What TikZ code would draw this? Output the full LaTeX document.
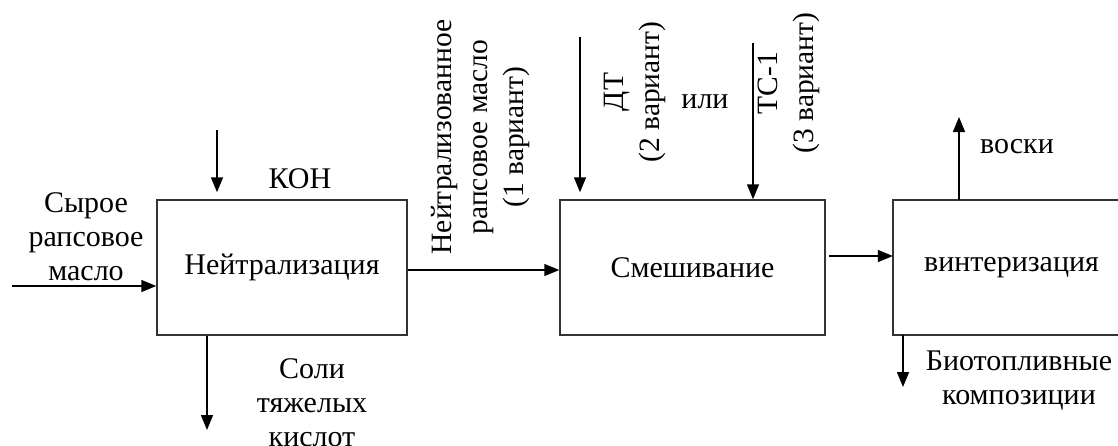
\documentclass[tikz,border=0pt]{standalone}
\usepackage{fontspec}
\setmainfont{Liberation Serif}
\usetikzlibrary{arrows.meta}
\begin{document}
\begin{tikzpicture}[x=1pt,y=-1pt,
  box/.style={draw=black!80, line width=1.5pt, minimum height=135pt, inner sep=0pt, font=\fontsize{30}{34}\selectfont},
  openbox/.style={minimum height=135pt, inner sep=0pt, font=\fontsize{30}{34}\selectfont},
  boxline/.style={draw=black!80, line width=1.5pt},
  arr/.style={line width=1.5pt, -{Triangle[length=15pt,width=12pt]}},
  lbl/.style={font=\fontsize{30}{34}\selectfont, align=center, inner sep=0pt},
  vlbl/.style={lbl, rotate=90, font=\fontsize{29.5}{36}\selectfont}]
\useasboundingbox (0,0) rectangle (1118,445);
\clip (0,0) rectangle (1118,445);
% boxes
\node[box, minimum width=250pt] (n1) at (282,267.5) {Нейтрализация};
\node[box, minimum width=265pt] (n2) at (692.5,267.5) {Смешивание};
\node[openbox, minimum width=237pt] (n3) at (1011.5,267.5) {винтеризация};
\draw[boxline] (n3.north east) -- (n3.north west) -- (n3.south west) -- (n3.south east);
% coordinates
\coordinate (in1) at (12,286);
\coordinate (koh) at (217,130);
\coordinate (s1) at (207,430);
\coordinate (dt) at (580,37);
\coordinate (tc) at (753,43);
\coordinate (m) at (829,256);
\coordinate (vk) at (959,117);
\coordinate (bio) at (903,387);
% arrows
\draw[arr] (in1) -- (in1 -| n1.west);
\draw[arr, shorten >=7pt] (koh) -- (koh |- n1.north);
\draw[arr] (s1 |- n1.south) -- (s1);
\draw[arr] ([yshift=-2.5pt]n1.east) -- ([yshift=-2.5pt]n2.west);
\draw[arr, shorten >=7pt] (dt) -- (dt |- n2.north);
\draw[arr] (tc) -- (tc |- n2.north);
\draw[arr] (m) -- (m -| n3.west);
\draw[arr] (vk |- n3.north) -- (vk);
\draw[arr] (bio |- n3.south) -- (bio);
% labels
\node[lbl] (t1) at (86,237) {Сырое\\рапсовое\\масло};
\node[lbl] (t2) at (300,179) {КОН};
\node[lbl] (t3) at (312,403) {Соли\\тяжелых\\кислот};
\node[vlbl] (t4) at (481,137) {Нейтрализованное\\рапсовое масло\\(1 вариант)};
\node[vlbl] (t5) at (635,92) {ДТ\\(2 вариант)};
\node[lbl] (t6) at (705,102) {или};
\node[vlbl] (t7) at (789,83) {ТС-1\\(3 вариант)};
\node[lbl] (t8) at (1017,147) {воски};
\node[lbl] (t9) at (1019,381) {Биотопливные\\композиции};
\end{tikzpicture}
\end{document}
